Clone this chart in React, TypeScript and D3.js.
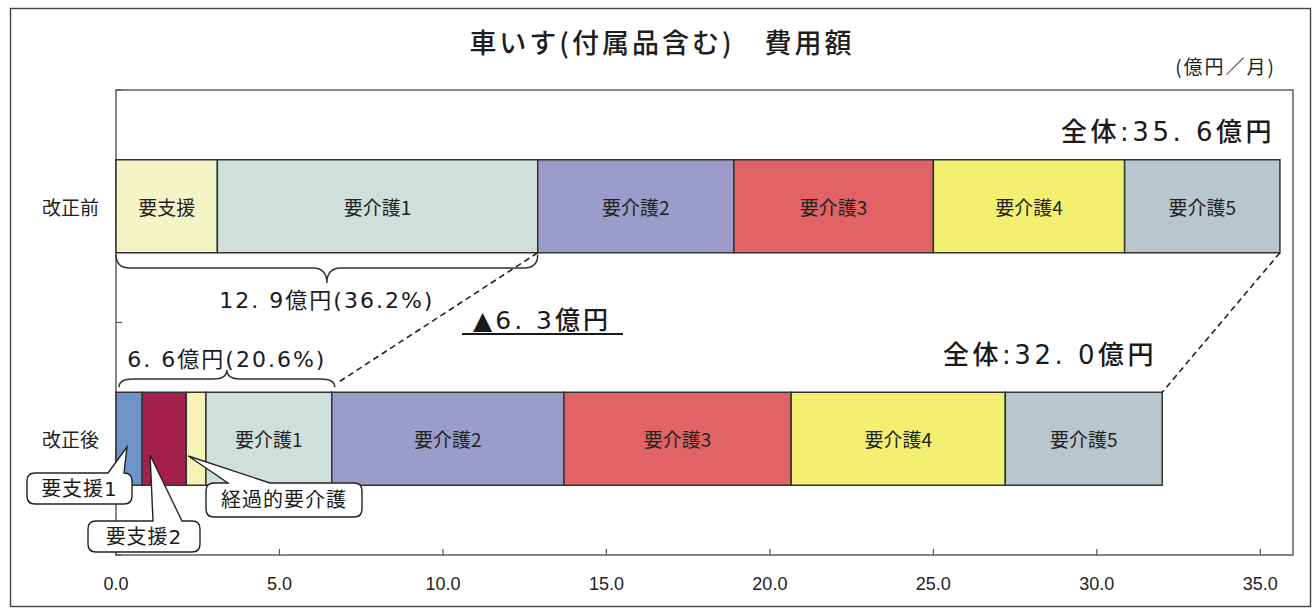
import React from "react";
import * as d3 from "d3";

// chart data (億円／月)
const rows = ["改正前", "改正後"];
const beforeNames = ["要支援", "要介護1", "要介護2", "要介護3", "要介護4", "要介護5"];
const beforeValues = [3.1, 9.8, 6.0, 6.1, 5.85, 4.75];
const afterNames = ["要支援1", "要支援2", "経過的要介護", "要介護1", "要介護2", "要介護3", "要介護4", "要介護5"];
const afterValues = [0.8, 1.35, 0.6, 3.85, 7.1, 6.95, 6.55, 4.8];
const xTicks = [0, 5, 10, 15, 20, 25, 30, 35];

const colors: Record<string, string> = {
  "要支援": "#f3f5c6",
  "要支援1": "#6d93c7",
  "要支援2": "#a2204b",
  "経過的要介護": "#f5f3b6",
  "要介護1": "#cfe0dc",
  "要介護2": "#9b9cc9",
  "要介護3": "#e16366",
  "要介護4": "#f3f071",
  "要介護5": "#b9c6cd",
};

// callouts for the narrow segments of the second row
const callouts = [
  { name: "要支援1", box: [27, 473, 105, 31], base: [108, 124], tipFrac: 0.42, tipY: 447 },
  { name: "要支援2", box: [88, 521, 112, 31], base: [153, 182], tipFrac: 0.18, tipY: 455 },
  { name: "経過的要介護", box: [206, 483, 156, 34], base: [228, 270], tipFrac: 0.1, tipY: 456 },
];

const FONT = "'Noto Sans CJK JP', 'Noto Sans', sans-serif";
const NUMFONT = "'DejaVu Sans', 'Noto Sans CJK JP', sans-serif";

function stackRow(names: string[], values: number[]) {
  const ends = Array.from(d3.cumsum(values));
  return names.map((name, i) => ({ name, x0: ends[i] - values[i], x1: ends[i] }));
}

function bracePath(x0: number, x1: number, yEnd: number, yMid: number, yTip: number) {
  const xm = (x0 + x1) / 2;
  const r = 14;
  return `M${x0},${yEnd} Q${x0},${yMid} ${x0 + r},${yMid} L${xm - r},${yMid} Q${xm},${yMid} ${xm},${yTip} ` +
    `Q${xm},${yMid} ${xm + r},${yMid} L${x1 - r},${yMid} Q${x1},${yMid} ${x1},${yEnd}`;
}

function calloutPath(bx: number, by: number, w: number, h: number, a: number, b: number, tx: number, ty: number) {
  const r = 8;
  return `M${bx + r},${by} L${a},${by} L${tx},${ty} L${b},${by} L${bx + w - r},${by} Q${bx + w},${by} ${bx + w},${by + r} ` +
    `L${bx + w},${by + h - r} Q${bx + w},${by + h} ${bx + w - r},${by + h} L${bx + r},${by + h} Q${bx},${by + h} ${bx},${by + h - r} ` +
    `L${bx},${by + r} Q${bx},${by} ${bx + r},${by} Z`;
}

const fmt = (v: number) => v.toFixed(1).replace(".", ". ");

export default function App() {
  const width = 1316;
  const height = 614;

  const x = d3.scaleLinear().domain([0, 36]).range([116, 1293]);
  const y = d3.scaleBand().domain(rows).range([90, 555]).paddingInner(0.6).paddingOuter(0.3);
  const bh = y.bandwidth();

  const before = stackRow(beforeNames, beforeValues);
  const after = stackRow(afterNames, afterValues);
  const totalBefore = d3.sum(beforeValues);
  const totalAfter = d3.sum(afterValues);
  const partBefore = before[1].x1; // 要支援 + 要介護1
  const partAfter = after[3].x1; // 要支援1,2 + 経過的 + 要介護1

  const yB = y("改正前")!;
  const yA = y("改正後")!;

  const diff = partBefore - partAfter;

  return (
    <svg width={width} height={height} style={{ position: "absolute", left: 0, top: 0, background: "#fff" }}
      fontFamily={FONT}>
      <rect x={0} y={0} width={width} height={height} fill="#fff" />
      {/* outer frame */}
      <rect x={10.5} y={8.5} width={1300} height={598} fill="none" stroke="#444" strokeWidth={1.4} />

      <text x={662} y={41} textAnchor="middle" dominantBaseline="central" fontSize={27} letterSpacing={3}
        fontWeight={500} fill="#1e1e1e">
        車いす(付属品含む)　費用額
      </text>
      <text x={1276} y={65} textAnchor="end" dominantBaseline="central" fontSize={19} letterSpacing={2} fill="#222">
        (億円／月)
      </text>

      {/* plot frame */}
      <rect x={x(0)} y={90} width={x(36) - x(0)} height={465} fill="none" stroke="#555" strokeWidth={1.4} />

      {/* x ticks */}
      {xTicks.map((t) => (
        <g key={t}>
          <line x1={x(t)} x2={x(t)} y1={555} y2={549} stroke="#555" strokeWidth={1.2} />
          <text x={x(t)} y={584} textAnchor="middle" dominantBaseline="central" fontSize={18}
            fontFamily="'Liberation Sans', Arial, sans-serif" fill="#222">
            {t.toFixed(1)}
          </text>
        </g>
      ))}
      {/* category ticks & labels */}
      {[90, (yB + bh + yA) / 2, 555].map((v, i) => (
        <line key={i} x1={x(0)} x2={x(0) + 6} y1={v} y2={v} stroke="#555" strokeWidth={1.2} />
      ))}
      {rows.map((r) => (
        <text key={r} x={99} y={y(r)! + bh / 2} textAnchor="end" dominantBaseline="central" fontSize={19} fill="#222">
          {r}
        </text>
      ))}

      {/* bars */}
      {before.map((s) => (
        <g key={"b" + s.name}>
          <rect x={x(s.x0)} y={yB} width={x(s.x1) - x(s.x0)} height={bh} fill={colors[s.name]} stroke="#333" strokeWidth={1.5} />
          <text x={(x(s.x0) + x(s.x1)) / 2} y={yB + bh / 2} textAnchor="middle" dominantBaseline="central" fontSize={19} fill="#222">
            {s.name}
          </text>
        </g>
      ))}
      {after.map((s) => (
        <g key={"a" + s.name}>
          <rect x={x(s.x0)} y={yA} width={x(s.x1) - x(s.x0)} height={bh} fill={colors[s.name]} stroke="#333" strokeWidth={1.5} />
          {s.name.startsWith("要介護") && (
            <text x={(x(s.x0) + x(s.x1)) / 2} y={yA + bh / 2} textAnchor="middle" dominantBaseline="central" fontSize={19} fill="#222">
              {s.name}
            </text>
          )}
        </g>
      ))}

      {/* totals */}
      <text x={1275} y={132} textAnchor="end" dominantBaseline="central" fontSize={26} letterSpacing={3.5}
        fontFamily={NUMFONT} fontWeight={500} fill="#1a1a1a">
        {`全体:${fmt(totalBefore)}億円`}
      </text>
      <text x={1157} y={355} textAnchor="end" dominantBaseline="central" fontSize={26} letterSpacing={3.5}
        fontFamily={NUMFONT} fontWeight={500} fill="#1a1a1a">
        {`全体:${fmt(totalAfter)}億円`}
      </text>

      {/* braces */}
      <path d={bracePath(x(0), x(partBefore), yB + bh + 2, 268, 283)} fill="none" stroke="#333" strokeWidth={1.5} />
      <text x={(x(0) + x(partBefore)) / 2} y={300} textAnchor="middle" dominantBaseline="central" fontSize={22}
        letterSpacing={2} fontFamily={NUMFONT} fill="#1a1a1a">
        {`${fmt(partBefore)}億円(${((partBefore / totalBefore) * 100).toFixed(1)}%)`}
      </text>
      <path d={bracePath(x(0) + 3, x(partAfter) + 3, yA - 5, 379, 370)} fill="none" stroke="#333" strokeWidth={1.5} />
      <text x={(x(0) + x(partAfter)) / 2 + 3} y={359} textAnchor="middle" dominantBaseline="central" fontSize={22}
        letterSpacing={2} fontFamily={NUMFONT} fill="#1a1a1a">
        {`${fmt(partAfter)}億円(${((partAfter / totalAfter) * 100).toFixed(1)}%)`}
      </text>

      {/* dashed connectors */}
      <line x1={x(partBefore)} y1={yB + bh} x2={x(partAfter) + 5} y2={yA - 9} stroke="#222" strokeWidth={1.6} strokeDasharray="6,4" />
      <line x1={x(totalBefore)} y1={yB + bh} x2={x(totalAfter)} y2={yA} stroke="#222" strokeWidth={1.6} strokeDasharray="6,4" />

      {/* difference */}
      <text x={542} y={320} textAnchor="middle" dominantBaseline="central" fontSize={25} letterSpacing={3}
        fontFamily={NUMFONT} fontWeight={500} fill="#1a1a1a">
        {`▲${fmt(diff)}億円`}
      </text>
      <line x1={462} x2={623} y1={334} y2={334} stroke="#1a1a1a" strokeWidth={1.8} />

      {/* callouts */}
      {callouts.map((c) => {
        const s = after.find((d) => d.name === c.name)!;
        const tx = x(s.x0 + c.tipFrac * (s.x1 - s.x0));
        const [bx, by, w, h] = c.box;
        return (
          <g key={c.name}>
            <path d={calloutPath(bx, by, w, h, c.base[0], c.base[1], tx, c.tipY)} fill="#fff" stroke="#222" strokeWidth={1.4} />
            <text x={bx + w / 2} y={by + h / 2} textAnchor="middle" dominantBaseline="central" fontSize={20}
              letterSpacing={1} fontFamily={NUMFONT} fill="#1a1a1a">
              {c.name}
            </text>
          </g>
        );
      })}
    </svg>
  );
}
